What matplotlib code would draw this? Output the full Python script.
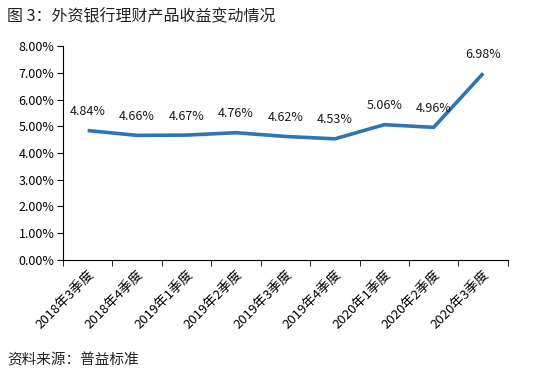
import matplotlib
matplotlib.use("Agg")
import matplotlib.pyplot as plt
from matplotlib.ticker import FuncFormatter, FixedLocator

plt.rcParams['font.family'] = ['Noto Sans CJK SC', 'DejaVu Sans']

quarters = ["2018年3季度", "2018年4季度", "2019年1季度", "2019年2季度", "2019年3季度",
            "2019年4季度", "2020年1季度", "2020年2季度", "2020年3季度"]
yields = [4.84, 4.66, 4.67, 4.76, 4.62, 4.53, 5.06, 4.96, 6.98]

fig = plt.figure(figsize=(5.38, 3.75), dpi=100)
ax = fig.add_axes([0.117, 0.307, 0.827, 0.570])

x = list(range(len(quarters)))
ax.plot(x, yields, color='#2E75B6', linewidth=2.6, solid_capstyle='butt')

for xi, v in zip(x, yields):
    ax.annotate(f"{v:.2f}%", (xi, v), xytext=(0, 9), textcoords='offset points',
                ha='center', va='bottom', fontsize=9, color='#1a1a1a')

ax.set_xlim(-0.5, len(quarters) - 0.5)
ax.set_ylim(0, 8)
ax.set_yticks([i for i in range(9)])
ax.yaxis.set_major_formatter(FuncFormatter(lambda v, p: f"{v:.2f}%"))

# category labels at centers, tick marks at boundaries
ax.set_xticks(x)
ax.set_xticklabels(quarters, rotation=45, ha='right', rotation_mode='anchor', fontsize=9.5)
ax.tick_params(axis='x', length=0, pad=6)
ax.xaxis.set_minor_locator(FixedLocator([i - 0.5 for i in range(len(quarters) + 1)]))
ax.tick_params(axis='x', which='minor', length=4, direction='out', color='black')
ax.tick_params(axis='y', length=4, direction='out', labelsize=9, pad=2)

for s in ['top', 'right']:
    ax.spines[s].set_visible(False)
ax.spines['left'].set_color('black')
ax.spines['bottom'].set_color('black')

fig.text(0.013, 0.955, "图 3：外资银行理财产品收益变动情况", fontsize=11.5,
         fontweight='medium', color='#222222', va='center', ha='left')
fig.text(0.013, 0.04, "资料来源：普益标准", fontsize=10.5, color='#222222',
         va='center', ha='left')

fig.savefig("out.png", dpi=100)
